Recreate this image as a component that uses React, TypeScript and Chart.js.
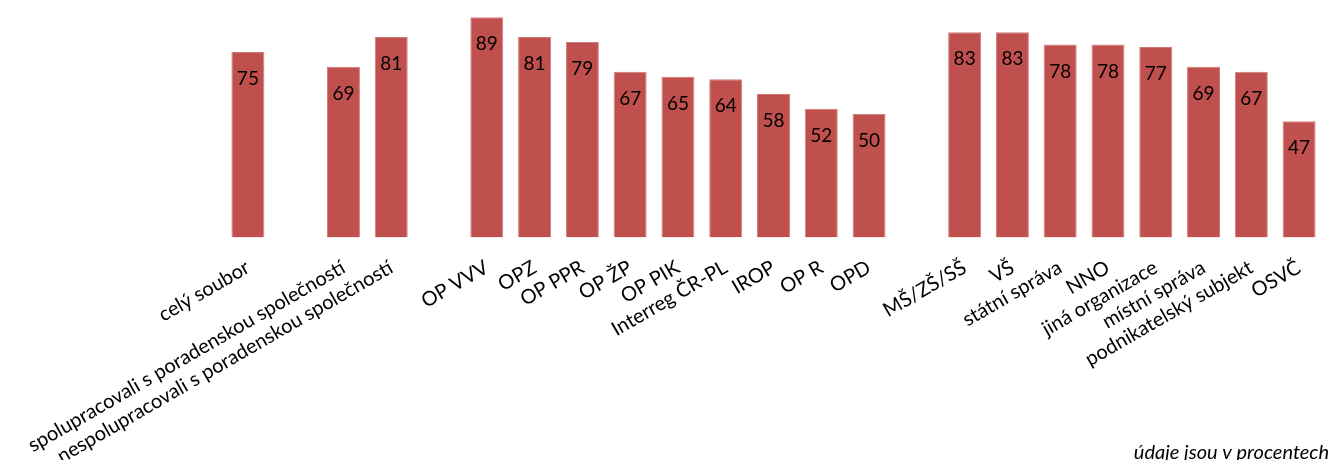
import React, { useEffect, useRef } from 'react';
import { Chart, registerables } from 'chart.js';

Chart.register(...registerables);

const categories = [
  'celý soubor',
  '',
  'spolupracovali s poradenskou společností',
  'nespolupracovali s poradenskou společností',
  '',
  'OP VVV',
  'OPZ',
  'OP PPR',
  'OP ŽP',
  'OP PIK',
  'Interreg ČR-PL',
  'IROP',
  'OP R',
  'OPD',
  '',
  'MŠ/ZŠ/SŠ',
  'VŠ',
  'státní správa',
  'NNO',
  'jiná organizace',
  'místní správa',
  'podnikatelský subjekt',
  'OSVČ',
];

const values: (number | null)[] = [
  75, null, 69, 81, null, 89, 81, 79, 67, 65, 64, 58, 52, 50, null, 83, 83, 78, 78, 77, 69, 67, 47,
];

const footnote = 'údaje jsou v procentech';

const FONT = 'Lato, "Liberation Sans", sans-serif';

const valueLabels = {
  id: 'valueLabels',
  afterDatasetsDraw(chart: any) {
    const ctx = chart.ctx;
    const meta = chart.getDatasetMeta(0);
    ctx.save();
    ctx.fillStyle = '#000';
    ctx.font = `19px ${FONT}`;
    ctx.textAlign = 'center';
    ctx.textBaseline = 'middle';
    meta.data.forEach((el: any, i: number) => {
      const v = values[i];
      if (v === null || v === undefined) return;
      ctx.fillText(String(v), el.x, el.y + 27);
    });
    ctx.restore();
  },
};

const footnotePlugin = {
  id: 'footnote',
  afterDraw(chart: any) {
    const ctx = chart.ctx;
    ctx.save();
    ctx.fillStyle = '#000';
    ctx.font = `italic 20px ${FONT}`;
    ctx.textAlign = 'right';
    ctx.textBaseline = 'alphabetic';
    ctx.fillText(footnote, 1329, 459);
    ctx.restore();
  },
};

export default function App() {
  const ref = useRef<HTMLCanvasElement | null>(null);
  useEffect(() => {
    if (!ref.current) return;
    const chart = new Chart(ref.current, {
      type: 'bar',
      data: {
        labels: categories,
        datasets: [
          {
            data: values,
            backgroundColor: '#C0504D',
            borderColor: '#D07B79',
            borderWidth: 1,
            categoryPercentage: 1,
            barPercentage: 0.69,
          },
        ],
      },
      options: {
        animation: false,
        responsive: true,
        maintainAspectRatio: false,
        layout: { padding: { left: 224, right: 9, top: 0, bottom: 0 } },
        plugins: {
          legend: { display: false },
          tooltip: { enabled: false },
        },
        scales: {
          x: {
            grid: { display: false },
            border: { display: false },
            ticks: {
              autoSkip: false,
              maxRotation: 30,
              minRotation: 30,
              color: '#000',
              padding: 10,
              font: { family: FONT, size: 20 },
            },
            afterFit: (scale: any) => {
              scale.height = 222.5;
            },
          },
          y: {
            display: false,
            min: 0,
            max: 96,
          },
        },
      },
      plugins: [valueLabels, footnotePlugin],
    });
    return () => chart.destroy();
  }, []);
  return (
    <div style={{ position: 'absolute', left: 0, top: 0, width: 1332, height: 460, background: '#fff' }}>
      <canvas ref={ref} />
    </div>
  );
}
